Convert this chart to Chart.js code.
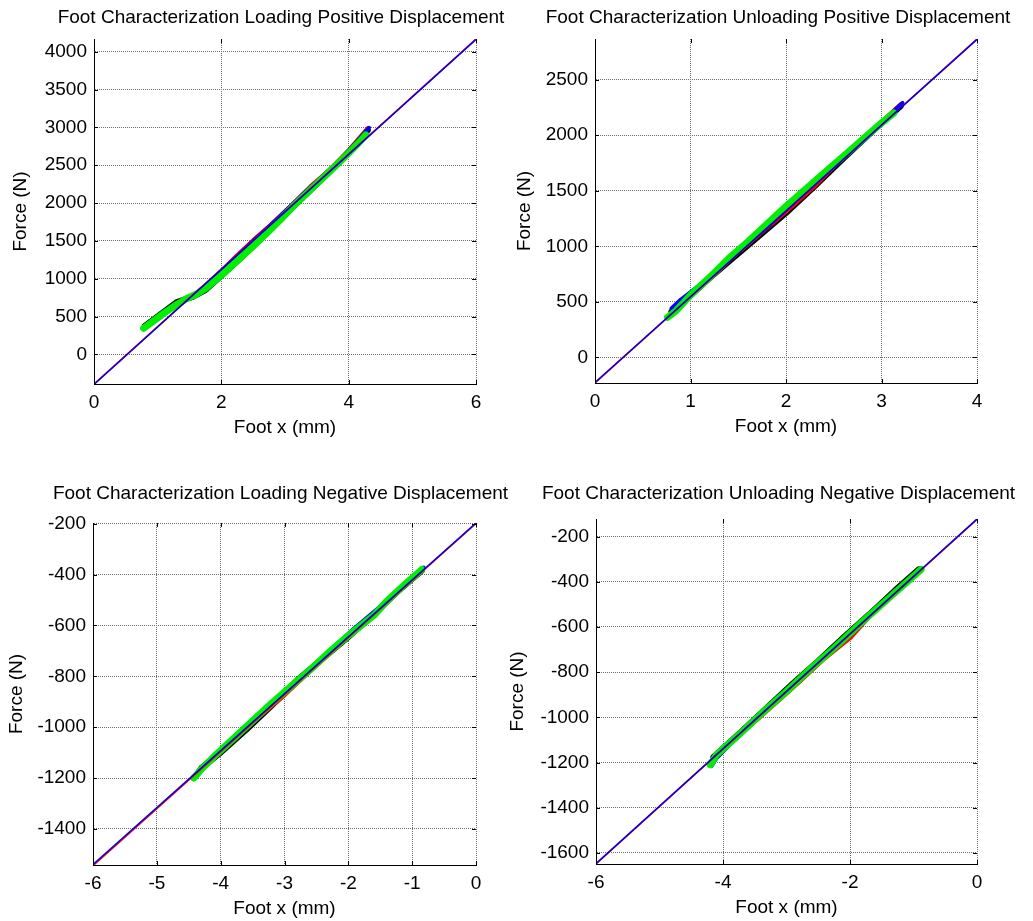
<!DOCTYPE html>
<html>
<head>
<meta charset="utf-8">
<title>Foot Characterization</title>
<script src="https://cdn.jsdelivr.net/npm/chart.js@4.4.0/dist/chart.umd.min.js"></script>
<style>
  html, body { margin: 0; padding: 0; background: #fff; }
  #page { position: relative; width: 1033px; height: 921px; overflow: hidden; background: #fff; }
  #page canvas { position: absolute; }
</style>
</head>
<body>
<div id="page">
  <canvas id="lp-chart"></canvas>
  <canvas id="up-chart"></canvas>
  <canvas id="ln-chart"></canvas>
  <canvas id="un-chart"></canvas>
</div>
<script>
// Foot characterization: force vs foot displacement, four panels

const X_LABEL = 'Foot x (mm)';
const Y_LABEL = 'Force (N)';

// ---- Loading, positive displacement ----
const lpTitle = 'Foot Characterization Loading Positive Displacement';
const lpXRange = [0, 6];
const lpYRange = [-392, 4168];
const lpXTicks = [0, 2, 4, 6];
const lpYTicks = [0, 500, 1000, 1500, 2000, 2500, 3000, 3500, 4000];
const lpFitX = [0, 6];
const lpFitRed = [-392, 4168];
const lpFitBlue = [-398, 4162];
const lpGreen = [[0.78, 345], [0.9, 420], [1.1, 545], [1.3, 660], [1.45, 735], [1.6, 790], [1.75, 870], [1.98, 1030],
  [2.2, 1200], [2.45, 1390], [2.7, 1590], [2.95, 1800], [3.15, 1975], [3.4, 2175], [3.6, 2335], [3.8, 2495],
  [4.0, 2660], [4.15, 2790], [4.27, 2900]];
const lpBlack = [[0.8, 375], [1.0, 500], [1.3, 690], [1.55, 760], [1.75, 850], [2.0, 1040], [2.3, 1270], [2.6, 1510],
  [2.9, 1760], [3.2, 2010], [3.5, 2250], [3.8, 2500], [4.1, 2760], [4.3, 2960]];
const lpRed = [[1.6, 800], [1.9, 1020], [2.2, 1270], [2.5, 1510], [2.8, 1730], [3.1, 1970], [3.4, 2220], [3.7, 2440],
  [4.0, 2700], [4.3, 2990]];
const lpBlue = [[1.5, 740], [1.8, 940], [2.1, 1180], [2.4, 1420], [2.7, 1650], [3.0, 1890], [3.3, 2130], [3.6, 2360],
  [3.9, 2600], [4.15, 2830], [4.32, 2995]];

// ---- Unloading, positive displacement ----
const upTitle = 'Foot Characterization Unloading Positive Displacement';
const upXRange = [0, 4];
const upYRange = [-231, 2866];
const upXTicks = [0, 1, 2, 3, 4];
const upYTicks = [0, 500, 1000, 1500, 2000, 2500];
const upFitX = [0, 4];
const upFitRed = [-231, 2866];
const upFitBlue = [-226, 2862];
const upGreen = [[0.76, 360], [0.85, 420], [1.0, 560], [1.2, 720], [1.4, 890], [1.6, 1040], [1.8, 1200], [2.0, 1360],
  [2.2, 1510], [2.4, 1660], [2.6, 1810], [2.8, 1960], [3.0, 2110], [3.13, 2200]];
const upBlack = [[0.8, 410], [1.1, 640], [1.4, 860], [1.7, 1080], [2.0, 1300], [2.3, 1540], [2.6, 1790], [2.9, 2030],
  [3.2, 2260]];
const upRed = [[0.78, 380], [1.1, 620], [1.4, 870], [1.7, 1090], [2.0, 1310], [2.3, 1540], [2.6, 1800], [2.9, 2040],
  [3.2, 2280]];
const upBlue = [[0.8, 440], [0.9, 520], [1.2, 720], [1.5, 950], [1.8, 1170], [2.1, 1410], [2.4, 1640], [2.7, 1870],
  [3.0, 2110], [3.22, 2290]];

// ---- Loading, negative displacement ----
const lnTitle = 'Foot Characterization Loading Negative Displacement';
const lnXRange = [-6, 0];
const lnYRange = [-1542, -197];
const lnXTicks = [-6, -5, -4, -3, -2, -1, 0];
const lnYTicks = [-1400, -1200, -1000, -800, -600, -400, -200];
const lnFitX = [-6, 0];
const lnFitRed = [-1545, -199];
const lnFitBlue = [-1540, -197];
const lnGreen = [[-4.42, -1200], [-4.3, -1165], [-4.1, -1115], [-3.8, -1045], [-3.5, -975], [-3.2, -905], [-2.9, -840],
  [-2.6, -775], [-2.3, -705], [-2.0, -640], [-1.8, -600], [-1.6, -560], [-1.4, -505], [-1.1, -435], [-0.85, -380]];
const lnBlack = [[-4.3, -1160], [-4.0, -1100], [-3.6, -1010], [-3.2, -915], [-2.8, -815], [-2.4, -730], [-2.0, -645],
  [-1.6, -555], [-1.2, -460], [-0.85, -385]];
const lnRed = [[-4.2, -1140], [-3.8, -1050], [-3.4, -960], [-3.0, -875], [-2.6, -780], [-2.2, -690], [-1.8, -600],
  [-1.4, -510], [-1.0, -410], [-0.85, -380]];
const lnBlue = [[-4.35, -1170], [-3.9, -1065], [-3.5, -975], [-3.1, -885], [-2.7, -795], [-2.3, -700], [-1.9, -610],
  [-1.5, -525], [-1.1, -440], [-0.82, -372]];

// ---- Unloading, negative displacement ----
const unTitle = 'Foot Characterization Unloading Negative Displacement';
const unXRange = [-6, 0];
const unYRange = [-1649, -122];
const unXTicks = [-6, -4, -2, 0];
const unYTicks = [-1600, -1400, -1200, -1000, -800, -600, -400, -200];
const unFitX = [-6, 0];
const unFitRed = [-1649, -124];
const unFitBlue = [-1647, -122];
const unGreen = [[-4.2, -1210], [-4.1, -1165], [-3.8, -1090], [-3.4, -985], [-3.0, -885], [-2.6, -780], [-2.2, -680],
  [-1.8, -575], [-1.4, -475], [-1.1, -400], [-0.88, -345]];
const unBlack = [[-4.15, -1175], [-3.7, -1060], [-3.3, -955], [-2.9, -850], [-2.5, -750], [-2.1, -645], [-1.7, -545],
  [-1.3, -440], [-0.92, -345]];
const unRed = [[-4.1, -1170], [-3.6, -1045], [-3.2, -945], [-2.8, -845], [-2.4, -740], [-2.0, -650], [-1.6, -525],
  [-1.2, -430], [-0.9, -340]];
const unBlue = [[-4.18, -1215], [-4.1, -1180], [-3.7, -1065], [-3.3, -965], [-2.9, -860], [-2.5, -760], [-2.1, -655],
  [-1.7, -555], [-1.3, -455], [-0.9, -350]];

const FONT_FAMILY = 'Arial, "Liberation Sans", sans-serif';
const FONT_SIZE = 19;
const LINE_H = FONT_SIZE * 1.2;
const X_AXIS_H = 56;

function toPoints(pairs) {
    return pairs.map(p => ({ x: p[0], y: p[1] }));
}

function fitPoints(xs, ys) {
    return xs.map((x, i) => ({ x: x, y: ys[i] }));
}

// MATLAB style inward tick marks on all four sides
const innerTicks = {
    id: 'innerTicks',
    afterDraw(chart) {
        const { ctx, chartArea: a, scales: { x, y } } = chart;
        ctx.save();
        ctx.strokeStyle = '#000';
        ctx.lineWidth = 1;
        ctx.beginPath();
        x.ticks.forEach(t => {
            const px = Math.round(x.getPixelForValue(t.value)) + 0.5;
            ctx.moveTo(px, a.bottom); ctx.lineTo(px, a.bottom - 4);
            ctx.moveTo(px, a.top); ctx.lineTo(px, a.top + 4);
        });
        y.ticks.forEach(t => {
            const py = Math.round(y.getPixelForValue(t.value)) + 0.5;
            ctx.moveTo(a.left, py); ctx.lineTo(a.left + 4, py);
            ctx.moveTo(a.right, py); ctx.lineTo(a.right - 4, py);
        });
        ctx.stroke();
        ctx.restore();
    }
};

// axes title above the plot box, centred like the MATLAB one
const panelTitle = {
    id: 'panelTitle',
    afterDraw(chart, args, opts) {
        const { ctx, chartArea: a } = chart;
        ctx.save();
        ctx.font = FONT_SIZE + 'px ' + FONT_FAMILY;
        ctx.fillStyle = '#000';
        ctx.textAlign = 'center';
        ctx.textBaseline = 'middle';
        ctx.fillText(opts.text, (a.left + a.right) / 2 + opts.dx, opts.y);
        ctx.restore();
    }
};

function traceSet(pairs, color, width, order) {
    return {
        data: toPoints(pairs),
        showLine: true,
        borderColor: color,
        backgroundColor: color,
        borderWidth: width,
        borderCapStyle: 'round',
        borderJoinStyle: 'round',
        pointRadius: 0,
        order: order
    };
}

function fitSet(xs, ys, color, order) {
    return {
        data: fitPoints(xs, ys),
        showLine: true,
        borderColor: color,
        borderWidth: 1.5,
        pointRadius: 0,
        order: order
    };
}

function initPanel(p) {
    const canvas = document.getElementById(p.id);
    const [cl, ct, cw, ch] = p.canvas;
    const [al, at, ar, ab] = p.area;
    canvas.width = cw;
    canvas.height = ch;
    canvas.style.left = cl + 'px';
    canvas.style.top = ct + 'px';

    const font = { family: FONT_FAMILY, size: FONT_SIZE, lineHeight: 1.2, weight: 'normal' };
    const yAxisW = al - cl;

    new Chart(canvas.getContext('2d'), {
        type: 'scatter',
        data: {
            datasets: [
                traceSet(p.black, '#000000', 6, 5),
                traceSet(p.red, '#ff0000', 4, 4),
                traceSet(p.blue, '#0000ff', 4, 3),
                traceSet(p.green, '#00ee00', 7, 2),
                fitSet(p.fitX, p.fitRed, '#ff0000', 1),
                fitSet(p.fitX, p.fitBlue, '#0000e6', 0)
            ]
        },
        options: {
            responsive: false,
            animation: false,
            events: [],
            layout: {
                padding: { left: 0, top: at - ct, right: cl + cw - ar, bottom: ct + ch - ab - X_AXIS_H }
            },
            plugins: {
                legend: { display: false },
                tooltip: { enabled: false },
                title: { display: false },
                panelTitle: { text: p.title, dx: p.titleDx, y: p.titleY - ct }
            },
            scales: {
                x: {
                    type: 'linear',
                    min: p.xRange[0],
                    max: p.xRange[1],
                    bounds: 'data',
                    afterFit: s => { s.height = X_AXIS_H; },
                    afterBuildTicks: s => { s.ticks = p.xTicks.map(v => ({ value: v })); },
                    ticks: {
                        autoSkip: false,
                        maxRotation: 0,
                        padding: 7,
                        color: '#000',
                        font: font,
                        callback: v => String(v)
                    },
                    grid: { color: '#6e6e6e', lineWidth: 1, drawTicks: false },
                    border: { display: true, color: '#000', width: 1, dash: [1, 1] },
                    title: {
                        display: true,
                        text: X_LABEL,
                        color: '#000',
                        font: font,
                        padding: { top: 0, bottom: X_AXIS_H - 44 - LINE_H / 2 }
                    }
                },
                y: {
                    type: 'linear',
                    min: p.yRange[0],
                    max: p.yRange[1],
                    bounds: 'data',
                    afterFit: s => { s.width = yAxisW; },
                    afterBuildTicks: s => { s.ticks = p.yTicks.map(v => ({ value: v })); },
                    ticks: {
                        autoSkip: false,
                        padding: 7,
                        color: '#000',
                        font: font,
                        callback: v => String(v)
                    },
                    grid: { color: '#6e6e6e', lineWidth: 1, drawTicks: false },
                    border: { display: true, color: '#000', width: 1, dash: [1, 1] },
                    title: {
                        display: true,
                        text: Y_LABEL,
                        color: '#000',
                        font: font,
                        padding: { top: p.yTitleX - cl - LINE_H / 2, bottom: 0 }
                    }
                }
            }
        },
        plugins: [innerTicks, panelTitle]
    });
}

document.addEventListener('DOMContentLoaded', function() {
    initPanel({
        id: 'lp-chart', canvas: [0, 0, 516, 460], area: [94, 39, 476, 384], titleY: 17.5, titleDx: -4, yTitleX: 21,
        title: lpTitle, xRange: lpXRange, yRange: lpYRange, xTicks: lpXTicks, yTicks: lpYTicks,
        fitX: lpFitX, fitRed: lpFitRed, fitBlue: lpFitBlue,
        green: lpGreen, black: lpBlack, red: lpRed, blue: lpBlue
    });
    initPanel({
        id: 'up-chart', canvas: [500, 0, 533, 460], area: [595, 39, 977, 383], titleY: 17.5, titleDx: -8, yTitleX: 525,
        title: upTitle, xRange: upXRange, yRange: upYRange, xTicks: upXTicks, yTicks: upYTicks,
        fitX: upFitX, fitRed: upFitRed, fitBlue: upFitBlue,
        green: upGreen, black: upBlack, red: upRed, blue: upBlue
    });
    initPanel({
        id: 'ln-chart', canvas: [0, 460, 516, 461], area: [93, 523, 476, 865], titleY: 493.5, titleDx: -4, yTitleX: 17,
        title: lnTitle, xRange: lnXRange, yRange: lnYRange, xTicks: lnXTicks, yTicks: lnYTicks,
        fitX: lnFitX, fitRed: lnFitRed, fitBlue: lnFitBlue,
        green: lnGreen, black: lnBlack, red: lnRed, blue: lnBlue
    });
    initPanel({
        id: 'un-chart', canvas: [500, 460, 533, 461], area: [596, 519, 977, 864], titleY: 493.5, titleDx: -8, yTitleX: 517.5,
        title: unTitle, xRange: unXRange, yRange: unYRange, xTicks: unXTicks, yTicks: unYTicks,
        fitX: unFitX, fitRed: unFitRed, fitBlue: unFitBlue,
        green: unGreen, black: unBlack, red: unRed, blue: unBlue
    });
});
</script>
</body>
</html>
